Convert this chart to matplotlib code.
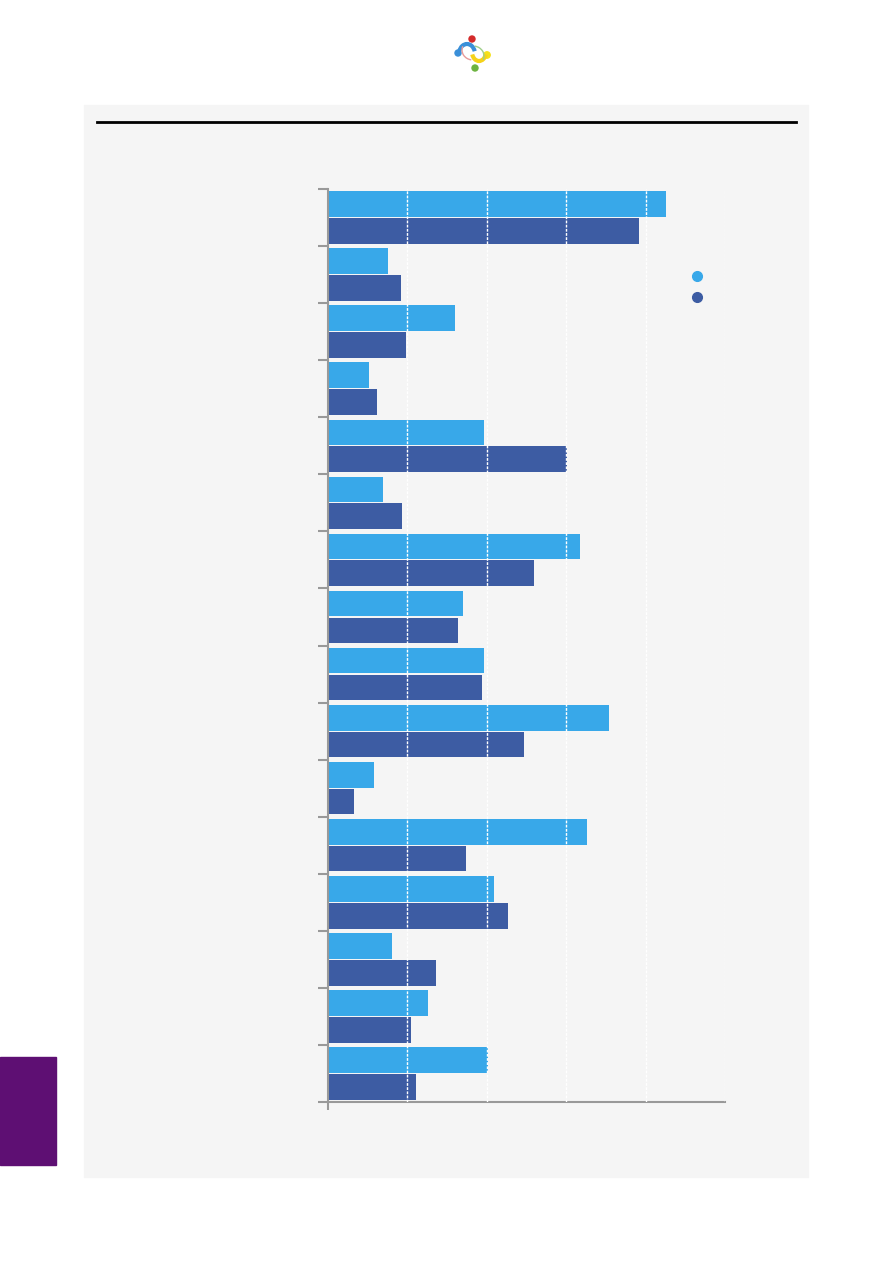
import numpy as np
import matplotlib.pyplot as plt
from matplotlib.lines import Line2D
from matplotlib.patches import Rectangle, Circle, Arc

# values, 16 groups, two series
groups = list(range(16))
series_a = [42.6, 7.6, 16.0, 5.2, 19.6, 6.9, 31.7, 17.0, 19.6, 35.4, 5.8, 32.6, 20.9, 8.1, 12.6, 20.2]
series_b = [39.2, 9.2, 9.8, 6.2, 30.1, 9.3, 25.9, 16.4, 19.4, 24.7, 3.3, 17.4, 22.7, 13.6, 10.5, 11.1]
grid_ticks = [10, 20, 30, 40, 50]

light_color = '#38a8e9'
dark_color = '#3d5ca3'
panel_color = '#f5f5f5'
axis_color = '#999999'

fig = plt.figure(figsize=(8.93, 12.63), dpi=100, facecolor='white')

# page decorations
fig.patches.append(Rectangle((84/893, 1-1177/1263), (808-84)/893, (1177-105)/1263,
                             transform=fig.transFigure, color=panel_color, zorder=-5))
fig.add_artist(Line2D([97/893, 796/893], [1-122/1263, 1-122/1263], color='black', lw=2, zorder=-4))
fig.patches.append(Rectangle((0, 1-1165/1263), 56/893, (1165-1057)/1263,
                             transform=fig.transFigure, color='#5e0f73', zorder=-4))

# logo
lax = fig.add_axes([445/893, 1-80/1263, 60/893, 50/1263])
lax.set_xlim(0, 60)
lax.set_ylim(50, 0)
lax.set_aspect('equal')
lax.axis('off')
lax.add_patch(Circle((27, 9), 3, color='#d42a2a'))
lax.add_patch(Circle((42, 25), 3.2, color='#f5e11a'))
lax.add_patch(Circle((13, 23), 3, color='#3a8fd8'))
lax.add_patch(Circle((30, 38), 3, color='#6cb33f'))
lax.add_patch(Arc((22, 24), 16, 20, theta1=200, theta2=340, color='#3a8fd8', lw=3))
lax.add_patch(Arc((34, 22), 14, 18, theta1=20, theta2=160, color='#f5d21a', lw=3))
lax.add_patch(Arc((28, 20), 22, 20, theta1=100, theta2=200, color='#e89a9a', lw=1))
lax.add_patch(Arc((28, 26), 22, 20, theta1=280, theta2=20, color='#9fcf8a', lw=1))

# chart
ax = fig.add_axes([328/893, 1-1102/1263, 397/893, (1102-189)/1263])
ax.patch.set_alpha(0)
y = np.array(groups)
ax.barh(y - 0.235, series_a, height=0.45, color=light_color, zorder=1)
ax.barh(y + 0.235, series_b, height=0.45, color=dark_color, zorder=1)

ax.set_xlim(0, 50)
ax.set_ylim(15.5, -0.5)

ax.set_yticks(np.arange(-0.5, 16, 1))
ax.set_yticklabels([])
ax.set_xticks([0])
ax.set_xticklabels([])
ax.set_xticks(grid_ticks, minor=True)
ax.tick_params(axis='y', length=7, width=1.5, color=axis_color)
ax.tick_params(axis='x', which='major', length=6, width=1.5, color=axis_color)
ax.tick_params(axis='x', which='minor', length=0)
ax.set_axisbelow(False)
ax.grid(True, axis='x', which='minor', color='white', linestyle=(0, (2, 1)), linewidth=1)

for side in ['top', 'right']:
    ax.spines[side].set_visible(False)
for side in ['left', 'bottom']:
    ax.spines[side].set_color(axis_color)
    ax.spines[side].set_linewidth(1.5)

handles = [Line2D([], [], marker='o', ls='', color=light_color, markersize=7),
           Line2D([], [], marker='o', ls='', color=dark_color, markersize=7)]
ax.legend(handles, ['', ''], loc='upper left', bbox_to_anchor=(0.877, 0.919),
          frameon=False, handletextpad=0, labelspacing=0.5, borderpad=0)

fig.savefig('out.png', dpi=100, facecolor='white')
